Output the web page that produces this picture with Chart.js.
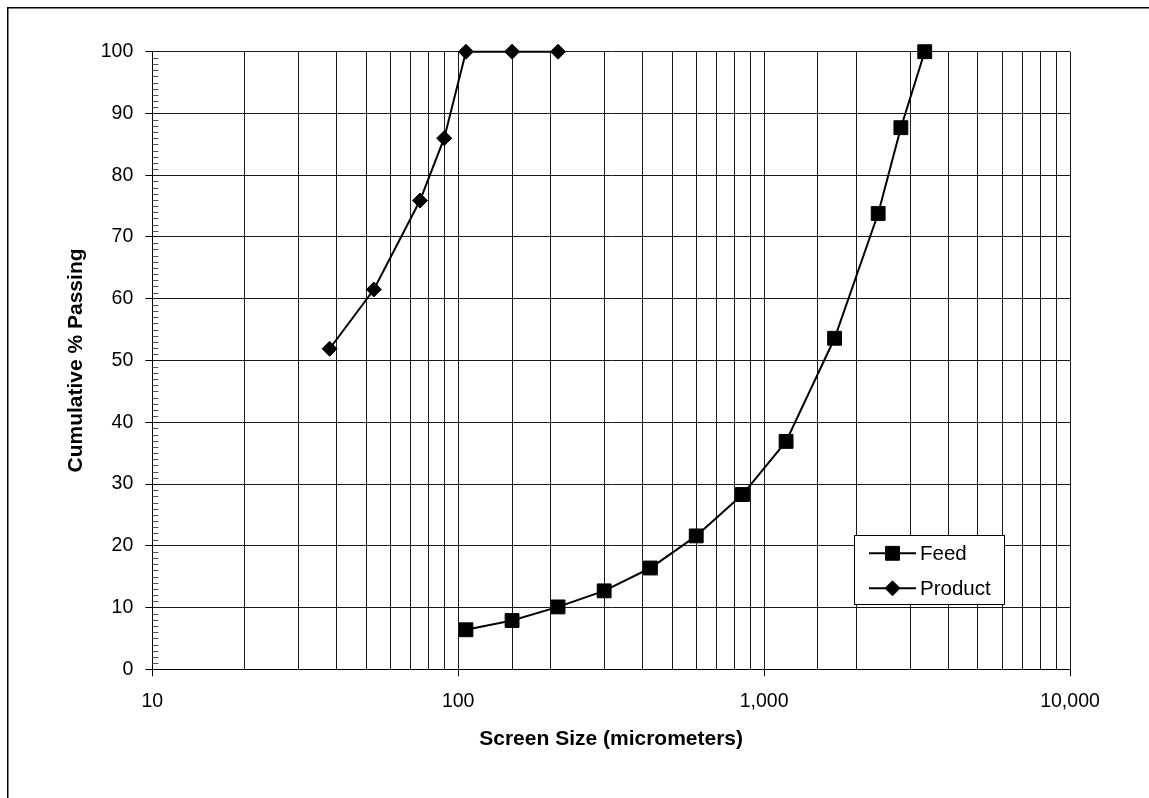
<!DOCTYPE html>
<html>
<head>
<meta charset="utf-8">
<script src="https://cdn.jsdelivr.net/npm/chart.js@4.4.0/dist/chart.umd.min.js"></script>
<style>
  html, body { margin: 0; padding: 0; background: #fff; }
  #wrap { width: 1149px; height: 798px; position: relative; }
</style>
</head>
<body>
<div id="wrap"><canvas id="c" width="1149" height="798"></canvas></div>
<script>
// ---- data ----
const feedSize = [106, 150, 212, 300, 425, 600, 850, 1180, 1700, 2360, 2800, 3350];
const feedPassing = [6.4, 7.9, 10.1, 12.7, 16.4, 21.6, 28.3, 36.9, 53.6, 73.8, 87.7, 100];
const productSize = [38, 53, 75, 90, 106, 150, 212];
const productPassing = [51.9, 61.5, 75.9, 86.0, 100, 100, 100];
const seriesNames = ['Feed', 'Product'];
const xTickValues = [10, 100, 1000, 10000];
const xTickLabels = ['10', '100', '1,000', '10,000'];
const yTickValues = [0, 10, 20, 30, 40, 50, 60, 70, 80, 90, 100];
const xTitle = 'Screen Size (micrometers)';
const yTitle = 'Cumulative % Passing';

const FONT = '"Liberation Sans", Arial, Helvetica, sans-serif';

function toPoints(xs, ys) { return xs.map((x, i) => ({ x: x, y: ys[i] })); }
function isDecade(v) { return xTickValues.indexOf(v) >= 0; }

// minor ticks (inside) on the y axis, outer frame, and the legend box
const extras = {
  id: 'extras',
  beforeDatasetsDraw(chart) {
    const ctx = chart.ctx;
    const ys = chart.scales.y;
    const area = chart.chartArea;
    ctx.save();
    ctx.strokeStyle = '#555';
    ctx.lineWidth = 1;
    for (let v = ys.min; v <= ys.max; v += 1) {
      if (v % 10 === 0) continue;
      const py = Math.round(ys.getPixelForValue(v)) + 0.5;
      ctx.beginPath();
      ctx.moveTo(area.left, py);
      ctx.lineTo(area.left + 6, py);
      ctx.stroke();
    }
    ctx.restore();
  },
  afterDraw(chart) {
    const ctx = chart.ctx;
    ctx.save();
    // outer frame (left and top edges)
    ctx.strokeStyle = '#000';
    ctx.lineWidth = 1.5;
    ctx.beginPath();
    ctx.moveTo(7.75, 800);
    ctx.lineTo(7.75, 7.75);
    ctx.lineTo(1150, 7.75);
    ctx.stroke();

    // legend
    const bx = 854.5, by = 535.5, bw = 150, bh = 69;
    ctx.fillStyle = '#fff';
    ctx.fillRect(bx, by, bw, bh);
    ctx.strokeStyle = '#000';
    ctx.lineWidth = 1;
    ctx.strokeRect(bx, by, bw, bh);
    const rows = [553.3, 588.3];
    chart.data.datasets.forEach((ds, i) => {
      const yy = rows[i];
      ctx.strokeStyle = ds.borderColor;
      ctx.lineWidth = ds.borderWidth;
      ctx.beginPath();
      ctx.moveTo(869, yy);
      ctx.lineTo(916, yy);
      ctx.stroke();
      ctx.fillStyle = '#000';
      ctx.strokeStyle = '#000';
      ctx.lineWidth = 1;
      Chart.helpers.drawPoint(ctx, {
        pointStyle: ds.pointStyle, radius: ds.pointRadius, borderWidth: 1, rotation: 0
      }, 892.5, yy);
      ctx.fillStyle = '#000';
      ctx.font = '20.5px ' + FONT;
      ctx.textAlign = 'left';
      ctx.textBaseline = 'middle';
      ctx.fillText(ds.label, 920, yy + 1);
    });
    ctx.restore();
  }
};

new Chart(document.getElementById('c'), {
  type: 'scatter',
  data: {
    datasets: [
      {
        label: seriesNames[0],
        data: toPoints(feedSize, feedPassing),
        showLine: true,
        clip: false,
        borderColor: '#000',
        backgroundColor: '#000',
        borderWidth: 2,
        pointStyle: 'rect',
        pointRadius: 9.8,
        pointBorderWidth: 1,
        pointHoverRadius: 9.8
      },
      {
        label: seriesNames[1],
        data: toPoints(productSize, productPassing),
        showLine: true,
        clip: false,
        borderColor: '#000',
        backgroundColor: '#000',
        borderWidth: 2,
        pointStyle: 'rectRot',
        pointRadius: 7.5,
        pointBorderWidth: 1,
        pointHoverRadius: 7.5
      }
    ]
  },
  options: {
    responsive: false,
    animation: false,
    events: [],
    layout: { padding: { left: 0, top: 51.7, right: 79, bottom: 0 } },
    plugins: {
      legend: { display: false },
      tooltip: { enabled: false }
    },
    scales: {
      x: {
        type: 'logarithmic',
        min: 10,
        max: 10000,
        afterFit(s) { s.height = 798 - 669.3; },
        border: { display: true, color: '#000', width: 1 },
        grid: {
          color: '#1a1a1a',
          lineWidth: 1,
          tickLength: 7,
          tickColor: (ctx) => (ctx.tick && isDecade(ctx.tick.value)) ? '#000' : 'rgba(0,0,0,0)'
        },
        ticks: {
          autoSkip: false,
          maxRotation: 0,
          minRotation: 0,
          padding: 14,
          color: '#000',
          font: { family: FONT, size: 19.5 },
          callback: (v) => {
            const i = xTickValues.indexOf(v);
            return i >= 0 ? xTickLabels[i] : '';
          }
        },
        title: {
          display: true,
          text: xTitle,
          color: '#000',
          font: { family: FONT, size: 21, weight: 'bold' },
          padding: { top: 0, bottom: 46 }
        }
      },
      y: {
        type: 'linear',
        min: yTickValues[0],
        max: yTickValues[yTickValues.length - 1],
        afterFit(s) { s.width = 152.3; },
        afterBuildTicks(s) { s.ticks = yTickValues.map(v => ({ value: v })); },
        border: { display: true, color: '#000', width: 1 },
        grid: {
          color: '#1a1a1a',
          lineWidth: 1,
          tickLength: 7,
          tickColor: '#000'
        },
        ticks: {
          padding: 12,
          color: '#000',
          font: { family: FONT, size: 19.5 }
        },
        title: {
          display: true,
          text: yTitle,
          color: '#000',
          font: { family: FONT, size: 21, weight: 'bold' },
          padding: { top: 64, bottom: 0 }
        }
      }
    }
  },
  plugins: [extras]
});
</script>
</body>
</html>
